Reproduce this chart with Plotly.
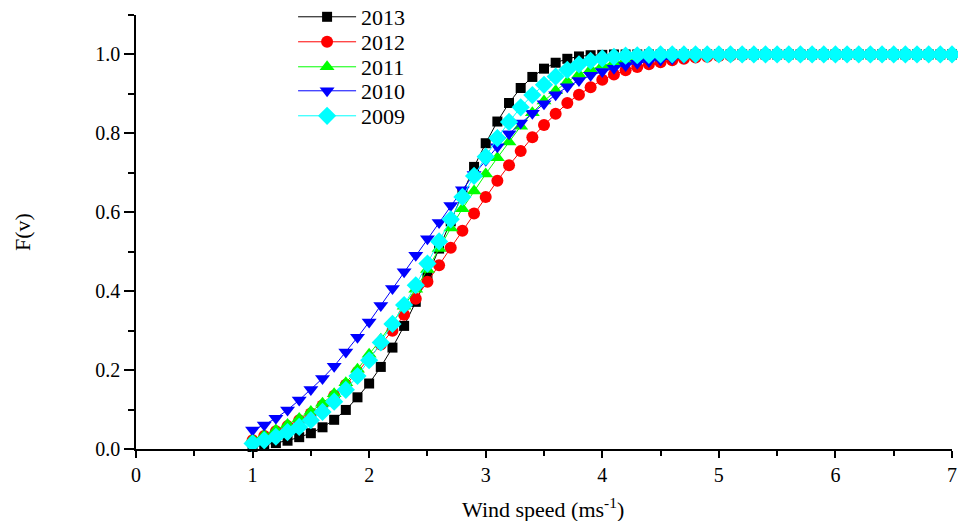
import plotly.graph_objects as go

wind_speed = [1.0, 1.1, 1.2, 1.3, 1.4, 1.5, 1.6, 1.7, 1.8, 1.9,
              2.0, 2.1, 2.2, 2.3, 2.4, 2.5, 2.6, 2.7, 2.8, 2.9,
              3.0, 3.1, 3.2, 3.3, 3.4, 3.5, 3.6, 3.7, 3.8, 3.9,
              4.0, 4.1, 4.2, 4.3, 4.4, 4.5, 4.6, 4.7, 4.8, 4.9,
              5.0, 5.1, 5.2, 5.3, 5.4, 5.5, 5.6, 5.7, 5.8, 5.9,
              6.0, 6.1, 6.2, 6.3, 6.4, 6.5, 6.6, 6.7, 6.8, 6.9, 7.0]

f_2013 = [0.005, 0.010, 0.015, 0.021, 0.030, 0.040, 0.055, 0.074, 0.099, 0.131,
          0.166, 0.208, 0.257, 0.312, 0.373, 0.438, 0.508, 0.577, 0.649, 0.715,
          0.775, 0.830, 0.877, 0.915, 0.943, 0.964, 0.979, 0.989, 0.995, 0.998,
          0.999, 1.000, 1.000, 1.000, 1.000, 1.000, 1.000, 1.000, 1.000, 1.000,
          1.000, 1.000, 1.000, 1.000, 1.000, 1.000, 1.000, 1.000, 1.000, 1.000,
          1.000, 1.000, 1.000, 1.000, 1.000, 1.000, 1.000, 1.000, 1.000, 1.000, 1.000]

f_2012 = [0.022, 0.033, 0.045, 0.058, 0.073, 0.090, 0.110, 0.135, 0.163, 0.195,
          0.230, 0.265, 0.300, 0.340, 0.381, 0.424, 0.466, 0.510, 0.553, 0.597,
          0.639, 0.680, 0.719, 0.755, 0.790, 0.821, 0.850, 0.877, 0.898, 0.917,
          0.936, 0.949, 0.960, 0.968, 0.975, 0.980, 0.985, 0.989, 0.992, 0.994,
          0.996, 0.997, 0.998, 0.999, 1.000, 1.000, 1.000, 1.000, 1.000, 1.000,
          1.000, 1.000, 1.000, 1.000, 1.000, 1.000, 1.000, 1.000, 1.000, 1.000, 1.000]

f_2011 = [0.025, 0.035, 0.048, 0.062, 0.077, 0.095, 0.116, 0.140, 0.168, 0.202,
          0.240, 0.278, 0.320, 0.362, 0.405, 0.455, 0.508, 0.560, 0.609, 0.654,
          0.697, 0.738, 0.778, 0.818, 0.852, 0.882, 0.908, 0.931, 0.949, 0.962,
          0.972, 0.980, 0.986, 0.990, 0.993, 0.995, 0.997, 0.998, 0.999, 1.000,
          1.000, 1.000, 1.000, 1.000, 1.000, 1.000, 1.000, 1.000, 1.000, 1.000,
          1.000, 1.000, 1.000, 1.000, 1.000, 1.000, 1.000, 1.000, 1.000, 1.000, 1.000]

f_2010 = [0.048, 0.061, 0.078, 0.099, 0.124, 0.151, 0.179, 0.210, 0.246, 0.283,
          0.322, 0.364, 0.407, 0.449, 0.491, 0.533, 0.574, 0.617, 0.657, 0.696,
          0.732, 0.766, 0.799, 0.826, 0.851, 0.875, 0.898, 0.918, 0.934, 0.947,
          0.957, 0.965, 0.972, 0.978, 0.982, 0.986, 0.989, 0.992, 0.994, 0.996,
          0.997, 0.998, 0.999, 1.000, 1.000, 1.000, 1.000, 1.000, 1.000, 1.000,
          1.000, 1.000, 1.000, 1.000, 1.000, 1.000, 1.000, 1.000, 1.000, 1.000, 1.000]

f_2009 = [0.014, 0.022, 0.031, 0.043, 0.056, 0.073, 0.094, 0.120, 0.150, 0.185,
          0.225, 0.270, 0.317, 0.365, 0.415, 0.470, 0.526, 0.582, 0.639, 0.692,
          0.741, 0.788, 0.829, 0.866, 0.897, 0.923, 0.944, 0.961, 0.975, 0.984,
          0.990, 0.994, 0.997, 0.998, 0.999, 1.000, 1.000, 1.000, 1.000, 1.000,
          1.000, 1.000, 1.000, 1.000, 1.000, 1.000, 1.000, 1.000, 1.000, 1.000,
          1.000, 1.000, 1.000, 1.000, 1.000, 1.000, 1.000, 1.000, 1.000, 1.000, 1.000]

years = ["2013", "2012", "2011", "2010", "2009"]
values = [f_2013, f_2012, f_2011, f_2010, f_2009]
colors = ["#000000", "#FF0000", "#00FF00", "#0000FF", "#00FFFF"]
symbols = ["square", "circle", "triangle-up", "triangle-down", "diamond"]
sizes = [10, 12, 13, 13, 14]
legend_ids = ["legend", "legend2", "legend3", "legend4", "legend5"]
legend_y = [0.9954, 0.9378, 0.8802, 0.8249, 0.7673]

FONT = "Liberation Serif, Times New Roman, serif"

fig = go.Figure()
for name, vals, color, symbol, size, lid in zip(years, values, colors, symbols, sizes, legend_ids):
    fig.add_trace(go.Scatter(
        x=wind_speed, y=vals, name=name, mode="lines+markers",
        line=dict(color=color, width=1),
        marker=dict(symbol=symbol, size=size, color=color, line=dict(width=0)),
        cliponaxis=False, legend=lid,
    ))

legend_layout = {}
for lid, ly in zip(legend_ids, legend_y):
    legend_layout[lid] = dict(
        x=0.1925, y=ly, xanchor="left", yanchor="middle",
        font=dict(family=FONT, size=22, color="black"),
        bgcolor="rgba(0,0,0,0)", borderwidth=0, itemwidth=58,
    )

fig.update_layout(
    width=958, height=521,
    margin=dict(l=136, r=6, t=15, b=72, autoexpand=False),
    plot_bgcolor="white", paper_bgcolor="white",
    font=dict(family=FONT, color="black", size=20),
    showlegend=True,
    xaxis=dict(
        range=[0, 7], tickmode="linear", tick0=0, dtick=1,
        showgrid=False, zeroline=False, automargin=False,
        ticklabeloverflow="allow",
        showline=True, linecolor="black", linewidth=1.6,
        ticks="outside", ticklen=7, tickwidth=1.5, tickcolor="black",
        minor=dict(dtick=0.5, ticks="outside", ticklen=5, tickwidth=1.5, tickcolor="black"),
        tickfont=dict(family=FONT, size=20),
    ),
    yaxis=dict(
        range=[0, 1.1], tickmode="linear", tick0=0, dtick=0.2, tickformat=".1f",
        showgrid=False, zeroline=False, automargin=False,
        ticklabeloverflow="allow",
        showline=True, linecolor="black", linewidth=1.6,
        ticks="outside", ticklen=10, tickwidth=1.5, tickcolor="black",
        minor=dict(dtick=0.1, ticks="outside", ticklen=6, tickwidth=1.5, tickcolor="black"),
        tickfont=dict(family=FONT, size=20),
    ),
    annotations=[
        dict(text="Wind speed (ms<sup>-1</sup>)", x=0.499, y=-0.136, xref="paper", yref="paper",
             xanchor="center", yanchor="middle", showarrow=False,
             font=dict(family=FONT, size=22, color="black")),
        dict(text="F(v)", x=-0.1397, y=0.5, xref="paper", yref="paper",
             xanchor="center", yanchor="middle", showarrow=False, textangle=-90,
             font=dict(family=FONT, size=22, color="black")),
    ],
    **legend_layout,
)

# remove the default 8px page margin so the 958x521 figure fills the window exactly
fig.write_html("out.html",
               config={"displayModeBar": False},
               post_script="document.body.style.margin='0px';document.body.style.overflow='hidden';")
